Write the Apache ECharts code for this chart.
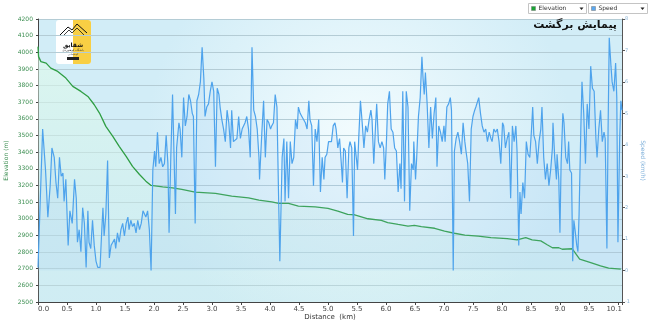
<!DOCTYPE html>
<html>
<head>
<meta charset="utf-8">
<script src="https://cdn.jsdelivr.net/npm/echarts@6/dist/echarts.min.js"></script>
<style>
  html, body { margin: 0; padding: 0; background: #fff; }
  #main { width: 650px; height: 322px; }
</style>
</head>
<body>
<div id="main"></div>
<script>
// elevation profile (km, m)
const elevKm = [0.00, 0.01, 0.05, 0.14, 0.22, 0.34, 0.48, 0.60, 0.74, 0.86, 0.97, 1.06, 1.17, 1.29, 1.40, 1.52, 1.63, 1.75, 1.86, 1.95,
  2.15, 2.32, 2.48, 2.71, 3.06, 3.34, 3.63, 3.81, 4.03, 4.15, 4.32, 4.49, 4.78, 5.00, 5.17, 5.34, 5.46, 5.69, 5.92, 6.03,
  6.21, 6.38, 6.49, 6.61, 6.84, 7.01, 7.18, 7.36, 7.59, 7.81, 8.09, 8.26, 8.41, 8.52, 8.67, 8.78, 8.87, 8.98, 9.04, 9.21,
  9.34, 9.53, 9.70, 9.84, 10.05];
const elevM = [4034, 3974, 3944, 3935, 3905, 3885, 3845, 3795, 3765, 3735, 3685, 3635, 3555, 3495, 3435, 3375, 3315, 3266, 3226, 3200,
  3192, 3186, 3176, 3160, 3152, 3136, 3126, 3112, 3102, 3092, 3092, 3076, 3072, 3062, 3046, 3026, 3024, 3000, 2990, 2977,
  2966, 2956, 2960, 2953, 2943, 2926, 2913, 2902, 2896, 2887, 2881, 2873, 2887, 2873, 2867, 2844, 2826, 2826, 2817, 2820,
  2757, 2737, 2717, 2703, 2697];

// speed trace (km, km/h)
const speedKm = [0.00, 0.08, 0.13, 0.17, 0.21, 0.24, 0.28, 0.31, 0.34, 0.37, 0.40, 0.43, 0.45, 0.48, 0.52, 0.55, 0.59, 0.63, 0.66, 0.68,
  0.71, 0.74, 0.77, 0.80, 0.83, 0.86, 0.88, 0.91, 0.94, 0.97, 1.00, 1.03, 1.07, 1.10, 1.12, 1.14, 1.17, 1.20, 1.23, 1.26,
  1.29, 1.32, 1.34, 1.37, 1.40, 1.43, 1.46, 1.49, 1.52, 1.55, 1.57, 1.60, 1.63, 1.66, 1.69, 1.72, 1.75, 1.78, 1.81, 1.83,
  1.86, 1.89, 1.92, 1.95, 1.98, 2.01, 2.03, 2.06, 2.09, 2.12, 2.15, 2.18, 2.21, 2.24, 2.26, 2.29, 2.32, 2.34, 2.37, 2.39,
  2.43, 2.45, 2.48, 2.51, 2.54, 2.57, 2.60, 2.63, 2.66, 2.68, 2.71, 2.74, 2.77, 2.80, 2.83, 2.86, 2.88, 2.91, 2.94, 2.97,
  3.00, 3.03, 3.06, 3.09, 3.12, 3.14, 3.17, 3.20, 3.23, 3.26, 3.29, 3.32, 3.34, 3.37, 3.40, 3.43, 3.46, 3.49, 3.52, 3.55,
  3.57, 3.60, 3.63, 3.66, 3.69, 3.72, 3.75, 3.78, 3.81, 3.82, 3.86, 3.89, 3.92, 3.95, 3.98, 4.01, 4.03, 4.06, 4.09, 4.12,
  4.15, 4.17, 4.21, 4.24, 4.26, 4.29, 4.32, 4.35, 4.38, 4.41, 4.44, 4.47, 4.49, 4.52, 4.55, 4.58, 4.61, 4.64, 4.67, 4.69,
  4.72, 4.75, 4.78, 4.81, 4.84, 4.87, 4.90, 4.93, 4.95, 4.98, 5.01, 5.03, 5.06, 5.09, 5.12, 5.14, 5.17, 5.20, 5.23, 5.25,
  5.27, 5.30, 5.33, 5.36, 5.38, 5.41, 5.44, 5.46, 5.49, 5.51, 5.53, 5.56, 5.59, 5.62, 5.65, 5.68, 5.71, 5.74, 5.76, 5.79,
  5.82, 5.84, 5.87, 5.90, 5.93, 5.96, 5.98, 6.01, 6.03, 6.06, 6.09, 6.12, 6.15, 6.18, 6.21, 6.24, 6.26, 6.29, 6.32, 6.35,
  6.38, 6.41, 6.44, 6.47, 6.48, 6.51, 6.53, 6.56, 6.59, 6.62, 6.64, 6.66, 6.68, 6.71, 6.74, 6.77, 6.80, 6.83, 6.86, 6.88,
  6.91, 6.94, 6.97, 7.00, 7.02, 7.05, 7.08, 7.11, 7.13, 7.16, 7.18, 7.21, 7.24, 7.27, 7.30, 7.33, 7.36, 7.38, 7.41, 7.44,
  7.47, 7.50, 7.53, 7.55, 7.57, 7.60, 7.63, 7.66, 7.69, 7.72, 7.75, 7.78, 7.81, 7.83, 7.86, 7.89, 7.92, 7.95, 7.98, 8.01,
  8.03, 8.06, 8.09, 8.12, 8.15, 8.18, 8.21, 8.24, 8.26, 8.29, 8.31, 8.33, 8.36, 8.39, 8.42, 8.45, 8.48, 8.51, 8.53, 8.55,
  8.58, 8.61, 8.64, 8.67, 8.69, 8.72, 8.75, 8.78, 8.81, 8.84, 8.87, 8.88, 8.91, 8.94, 8.95, 8.98, 9.00, 9.02, 9.05, 9.07,
  9.10, 9.13, 9.15, 9.17, 9.20, 9.22, 9.24, 9.26, 9.29, 9.31, 9.33, 9.36, 9.38, 9.41, 9.44, 9.47, 9.50, 9.53, 9.56, 9.59,
  9.62, 9.64, 9.67, 9.70, 9.73, 9.76, 9.78, 9.81, 9.83, 9.85, 9.88, 9.90, 9.93, 9.96, 9.98, 10.00, 10.03, 10.05, 10.07];
const speedKmh = [0.1, 4.5, 3.2, 1.7, 2.7, 3.9, 3.6, 2.8, 2.3, 3.6, 3.0, 3.1, 2.2, 2.9, 0.8, 1.9, 1.5, 2.9, 2.3, 0.9,
  1.3, 0.6, 2.0, 1.5, 0.1, 1.9, 0.9, 0.7, 1.6, 0.8, 0.3, 0.1, 0.1, 1.3, 2.0, 1.1, 1.8, 3.5, 0.4, 0.8,
  0.9, 1.0, 0.7, 1.2, 0.9, 1.3, 1.5, 1.1, 1.5, 1.7, 1.3, 1.6, 1.4, 1.5, 1.2, 1.6, 1.3, 1.5, 1.9, 1.9,
  1.7, 1.9, 1.3, 0.0, 3.2, 3.8, 3.3, 4.4, 3.4, 3.6, 3.3, 3.4, 4.3, 3.4, 1.2, 3.6, 5.6, 4.1, 1.8, 3.9,
  4.7, 4.5, 3.6, 5.5, 4.6, 4.9, 5.6, 5.4, 5.0, 4.9, 1.5, 5.4, 5.6, 6.0, 7.1, 6.1, 4.9, 5.2, 5.3, 5.7,
  6.0, 5.7, 3.3, 5.8, 5.6, 5.2, 4.8, 4.5, 4.1, 5.1, 4.7, 3.9, 5.1, 4.1, 4.1, 4.2, 4.9, 4.2, 4.5, 4.5,
  4.7, 4.9, 4.5, 3.6, 7.1, 5.1, 4.9, 4.5, 3.6, 2.9, 4.4, 5.4, 3.6, 4.8, 4.7, 4.5, 4.6, 4.7, 5.6, 5.2,
  2.2, 0.3, 3.6, 4.2, 2.2, 4.1, 2.3, 4.1, 3.4, 3.6, 4.8, 4.5, 5.2, 5.0, 4.9, 4.9, 4.7, 4.5, 5.4, 4.8,
  4.6, 2.7, 4.5, 4.1, 4.8, 2.5, 3.6, 2.9, 3.6, 3.7, 4.1, 4.1, 4.1, 4.6, 4.7, 4.5, 3.9, 4.2, 3.4, 2.8,
  3.9, 3.8, 2.3, 3.9, 4.1, 3.9, 1.1, 4.1, 4.1, 3.2, 4.2, 5.4, 4.7, 3.9, 4.6, 4.4, 4.8, 5.1, 4.8, 3.4,
  4.6, 5.3, 4.1, 3.9, 4.1, 3.9, 2.9, 4.2, 5.3, 5.7, 4.5, 4.4, 3.9, 3.8, 2.5, 3.4, 2.6, 5.7, 2.2, 5.7,
  5.2, 1.9, 3.4, 3.2, 4.1, 2.9, 3.6, 4.9, 5.5, 6.8, 6.1, 5.6, 6.3, 5.3, 3.9, 5.2, 4.2, 5.0, 5.5, 3.3,
  4.6, 4.4, 4.1, 4.6, 4.1, 5.2, 5.3, 5.5, 5.1, 0.0, 3.8, 4.2, 4.4, 4.1, 3.7, 4.7, 4.1, 3.8, 3.4, 2.2,
  4.5, 4.9, 5.1, 5.2, 5.2, 5.5, 5.0, 4.6, 4.4, 4.5, 4.1, 4.4, 4.2, 4.1, 4.5, 4.4, 4.5, 4.1, 3.4, 4.7,
  4.6, 3.9, 4.2, 4.4, 2.3, 4.6, 4.1, 4.6, 3.8, 0.8, 2.5, 1.8, 2.8, 2.3, 4.1, 3.7, 3.6, 4.5, 5.2, 4.3,
  4.1, 3.4, 4.1, 4.5, 5.2, 3.6, 2.9, 3.4, 2.7, 3.2, 3.9, 4.7, 3.6, 2.9, 3.7, 2.9, 1.2, 3.4, 5.0, 4.7,
  3.6, 3.4, 4.1, 3.2, 3.1, 0.3, 1.6, 1.3, 0.8, 0.6, 1.8, 4.5, 6.0, 5.0, 3.4, 5.3, 4.5, 6.5, 5.8, 5.7,
  4.2, 3.6, 4.5, 5.1, 4.1, 4.4, 4.2, 0.7, 4.5, 7.4, 6.5, 6.0, 5.7, 6.6, 5.5, 0.9, 4.2, 5.4, 5.1];

const xMax = 10.07;
const titleText = 'پیمایش برگشت';
const seriesNames = ['Elevation', 'Speed'];
const seriesColors = ['#2f9e44', '#4ea3ec'];

const zip = (a, b) => a.map((v, i) => [v, b[i]]);

const legendBox = (x, w, name, color) => ({
  type: 'group', left: x, top: 3,
  children: [
    { type: 'rect', shape: { x: 0, y: 0, width: w, height: 10 }, style: { fill: '#fff', stroke: '#c4c4c4', lineWidth: 1 } },
    { type: 'rect', shape: { x: 3, y: 3, width: 4, height: 4 }, style: { fill: color, stroke: '#777', lineWidth: 0.5 } },
    { type: 'text', x: 10, y: 5, style: { text: name, fontSize: 6, fontFamily: 'DejaVu Sans', fill: '#333', verticalAlign: 'middle' } },
    { type: 'polygon', shape: { points: [[w - 7, 4], [w - 3, 4], [w - 5, 6.5]] }, style: { fill: '#222' } }
  ]
});

const chart = echarts.init(document.getElementById('main'));
chart.setOption({
  animation: false,
  backgroundColor: '#fff',
  grid: {
    left: 38, right: 28, top: 19, bottom: 20, show: true, borderWidth: 0,
    containLabel: false, outerBoundsMode: 'none',
    backgroundColor: {
      type: 'radial', x: 0.55, y: 0.42, r: 0.75,
      colorStops: [{ offset: 0, color: '#f3fcfe' }, { offset: 1, color: '#d2edf7' }]
    }
  },
  xAxis: {
    type: 'value', min: 0, max: xMax, interval: 0.5,
    name: 'Distance  (km)', nameLocation: 'middle', nameGap: 12, nameMoveOverlap: false,
    nameTextStyle: { fontSize: 7, color: '#333', fontFamily: 'DejaVu Sans' },
    axisLine: { onZero: false, lineStyle: { color: '#444' } },
    axisTick: { length: 3, lineStyle: { color: '#444' } },
    axisLabel: {
      fontSize: 7, color: '#444', fontFamily: 'DejaVu Sans', margin: 4,
      showMaxLabel: true, alignMinLabel: 'left', alignMaxLabel: 'right',
      formatter: v => (v < xMax && xMax - v < 0.3) ? '' : v.toFixed(1)
    },
    splitLine: { show: false }
  },
  yAxis: [{
    type: 'value', min: 2500, max: 4200, interval: 100, position: 'left',
    name: 'Elevation (m)', nameLocation: 'middle', nameGap: 29, nameMoveOverlap: false,
    nameTextStyle: { fontSize: 6, color: '#3d8f52', fontFamily: 'DejaVu Sans' },
    axisLine: { show: true, lineStyle: { color: '#444' } },
    axisTick: { show: true, length: 2, lineStyle: { color: '#444' } },
    axisLabel: { fontSize: 6, color: '#3d8f52', fontFamily: 'DejaVu Sans', margin: 5, formatter: v => String(v) },
    splitLine: { lineStyle: { color: '#b4ccd5', width: 1 } }
  }, {
    type: 'value', min: -1, max: 8, interval: 1, position: 'right',
    name: 'Speed (km/h)', nameLocation: 'middle', nameGap: 18, nameRotate: -90, nameMoveOverlap: false,
    nameTextStyle: { fontSize: 6, color: '#7fb0da', fontFamily: 'DejaVu Sans' },
    axisLine: { show: true, lineStyle: { color: '#555' } },
    axisTick: { show: true, length: 3, lineStyle: { color: '#555' } },
    axisLabel: { fontSize: 5, color: '#8ab4d6', fontFamily: 'DejaVu Sans', margin: 3 },
    splitLine: { show: false }
  }],
  series: [{
    name: seriesNames[0], type: 'line', yAxisIndex: 0, data: zip(elevKm, elevM),
    symbol: 'none', z: 2,
    lineStyle: { color: seriesColors[0], width: 1.3 },
    areaStyle: {
      origin: 'start',
      color: {
        type: 'linear', x: 0, y: 0, x2: 0, y2: 1,
        colorStops: [{ offset: 0, color: 'rgba(226,252,234,0.9)' }, { offset: 1, color: 'rgba(200,236,232,0.35)' }]
      }
    }
  }, {
    name: seriesNames[1], type: 'line', yAxisIndex: 1, data: zip(speedKm, speedKmh),
    symbol: 'none', z: 3,
    lineStyle: { color: seriesColors[1], width: 1.2 },
    areaStyle: { color: 'rgba(150,198,245,0.22)' }
  }],
  graphic: [
    legendBox(528, 58, seriesNames[0], '#19a535'),
    legendBox(588, 59, seriesNames[1], '#5aa8f0'),
    {
      type: 'text', right: 33, top: 20, z: 10,
      style: { text: titleText, fontSize: 11, fontWeight: 'bold', fontFamily: 'DejaVu Sans', fill: '#111' }
    },
    {
      type: 'group', left: 56, top: 20, z: 10,
      children: [
        { type: 'rect', shape: { x: 0, y: 0, width: 35, height: 44, r: 3 }, style: { fill: '#fff' } },
        { type: 'rect', shape: { x: 17, y: 0, width: 18, height: 44, r: [0, 3, 3, 0] }, style: { fill: '#f8cf44' } },
        { type: 'polyline', shape: { points: [[3, 16], [12, 7], [16, 10], [21, 4], [31, 13]] }, style: { stroke: '#111', lineWidth: 1, fill: null } },
        { type: 'polyline', shape: { points: [[8, 15], [13, 10], [16, 13], [21, 8], [29, 16]] }, style: { stroke: '#111', lineWidth: 0.8, fill: null } },
        { type: 'text', x: 17, y: 22, style: { text: 'شقایق', fontSize: 6, fontWeight: 'bold', fontFamily: 'DejaVu Sans', fill: '#111', align: 'center' } },
        { type: 'text', x: 17, y: 29, style: { text: 'باشگاه کوهنوردی', fontSize: 3, fontFamily: 'DejaVu Sans', fill: '#333', align: 'center' } },
        { type: 'text', x: 17, y: 33, style: { text: 'کوهپیمایی', fontSize: 2.5, fontFamily: 'DejaVu Sans', fill: '#555', align: 'center' } },
        { type: 'rect', shape: { x: 11, y: 37, width: 12, height: 3 }, style: { fill: '#222' } }
      ]
    }
  ]
});
</script>
</body>
</html>
